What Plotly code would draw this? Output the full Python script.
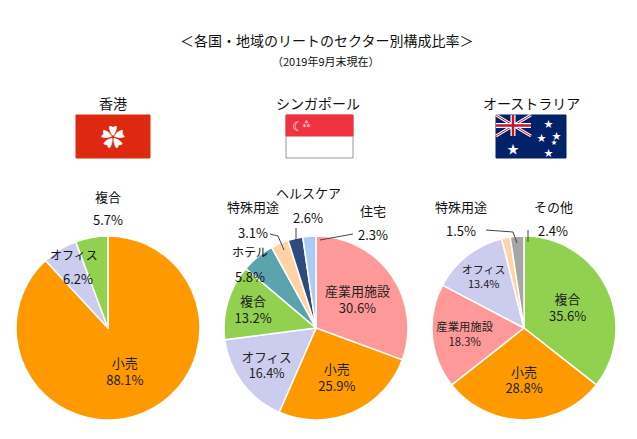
import plotly.graph_objects as go

C = {"小売":"#FF9900","オフィス":"#CCCCEE","複合":"#92D050","産業用施設":"#FF9999","ホテル":"#5BA3AD",
     "特殊用途":"#FFD3A6","ヘルスケア":"#2F4A7C","住宅":"#A9CBF5","その他":"#A6A6A6"}
hk_labels = ["小売","オフィス","複合"]; hk_vals = [88.1,6.2,5.7]
sg_labels = ["産業用施設","小売","オフィス","複合","ホテル","特殊用途","ヘルスケア","住宅"]
sg_vals = [30.6,25.9,16.4,13.2,5.8,3.1,2.6,2.3]
au_labels = ["複合","小売","産業用施設","オフィス","特殊用途","その他"]
au_vals = [35.6,28.8,18.3,13.4,1.5,2.4]

FONT = "Noto Sans CJK JP"
fig = go.Figure()
H, W = 439, 637
def dom(cx):
    r = 92
    cx -= 8; cy = 320
    return dict(x=[(cx-r)/W,(cx+r)/W], y=[1-(cy+r)/H, 1-(cy-r)/H])

def pie(labels, vals, cx, inside):
    tp = ["inside" if l in inside else "none" for l in labels]
    fig.add_trace(go.Pie(labels=labels, values=vals, domain=dom(cx), sort=False, direction="clockwise",
        rotation=0, marker=dict(colors=[C[l] for l in labels], line=dict(color="white", width=1.5)),
        texttemplate="%{label}<br>%{value:.1f}%", textposition=tp, insidetextorientation="horizontal",
        textfont=dict(size=13, color="#222", family=FONT), showlegend=False, hoverinfo="label+value"))

pie(hk_labels, hk_vals, 108, ["小売"])
pie(sg_labels, sg_vals, 316, ["産業用施設","小売","オフィス","複合"])
pie(au_labels, au_vals, 524, ["複合","小売","産業用施設","オフィス"])

ann = []
def t(x, y, s, size=13, color="#111"):
    ann.append(dict(x=x/W, y=1-y/H, xref="paper", yref="paper", text=s, showarrow=False,
                    xanchor="center", yanchor="middle",
                    font=dict(size=size, family=FONT, color=color)))
t(318, 32, "＜各国・地域のリートのセクター別構成比率＞", 14)
t(318, 53, "（2019年9月末現在）", 11)
t(105, 95, "香港", 14); t(310, 95, "シンガポール", 14); t(523, 95, "オーストラリア", 14)
t(100, 188, "複合"); t(100, 211, "5.7%")
t(66, 246, "オフィス", 12); t(70, 270, "6.2%")
t(245, 198, "特殊用途"); t(245, 224, "3.1%")
t(300, 184, "ヘルスケア"); t(300, 210, "2.6%")
t(365, 202, "住宅"); t(365, 226, "2.3%")
t(242, 243, "ホテル", 12); t(242, 268, "5.8%")
t(453, 198, "特殊用途"); t(453, 222, "1.5%")
t(545, 198, "その他"); t(545, 222, "2.4%")

shapes = []
def rect(x0,y0,x1,y1,fill,line=None):
    shapes.append(dict(type="rect", xref="paper", yref="paper", x0=x0/W, x1=x1/W, y0=1-y1/H, y1=1-y0/H,
                       fillcolor=fill, line=dict(color=line or fill, width=1)))
def ln(x0,y0,x1,y1,c="#444",w=1):
    shapes.append(dict(type="line", xref="paper", yref="paper", x0=x0/W, x1=x1/W, y0=1-y0/H, y1=1-y1/H,
                       line=dict(color=c, width=w)))
# leader lines
ln(262,226,270,228); ln(270,228,276,242)
ln(288,220,288,232)
ln(345,226,312,232)
ln(478,222,505,224); ln(505,224,509,235)
ln(520,222,520,234)
# flags
rect(68,107,142,150,"#DE2910")
rect(278,107,345,150,"white","#999"); rect(278,107,345,128,"#EF3340")
rect(488,107,558,150,"#012169")
ln(488,107,523,128,"white",3); ln(523,107,488,128,"white",3)
ln(488,107,523,128,"#C8102E",1); ln(523,107,488,128,"#C8102E",1)
ln(505,107,505,128,"white",5); ln(488,117.5,523,117.5,"white",5)
ln(505,107,505,128,"#C8102E",2.5); ln(488,117.5,523,117.5,"#C8102E",2.5)
fig.update_layout(shapes=shapes)
t(105, 128, "✿", 24, "white")
t(290, 118, "☾", 13, "white")
t(298, 116, "⁂", 9, "white")
for (x,y,s) in [(505,140,12),(540,115,9),(548,127,9),(533,130,9),(540,144,9),(546,133,6)]:
    t(x,y,"★",s,"white")

fig.update_layout(width=W, height=H, margin=dict(l=0,r=0,t=0,b=0), paper_bgcolor="white",
                  annotations=ann, font=dict(family=FONT))
fig.write_html("out.html")
